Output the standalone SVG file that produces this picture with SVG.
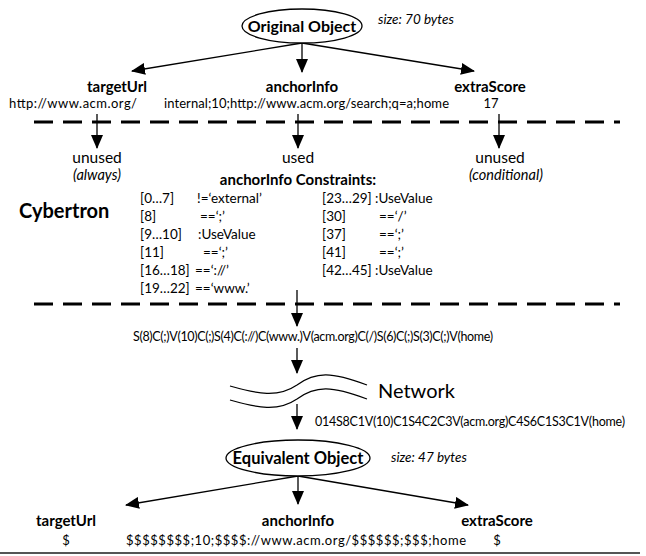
<svg xmlns="http://www.w3.org/2000/svg" width="646" height="556" viewBox="0 0 646 556">
<defs>
<marker id="ah" markerUnits="userSpaceOnUse" markerWidth="14" markerHeight="12" viewBox="0 0 14 12" refX="13" refY="6" orient="auto">
<path d="M0,0 L14,6 L0,12 Z" fill="#000"/>
</marker>
<style>
text{font-family:Lato,"Liberation Sans",sans-serif;fill:#000}
.b{font-weight:bold}
.i{font-style:italic}
.t{font-size:13px}
.lab{font-size:15px;font-weight:bold;text-anchor:middle}
.m{text-anchor:middle}
.c{stroke:#000;stroke-width:1.3;fill:none;marker-end:url(#ah)}
.dash{stroke:#000;stroke-width:3;stroke-dasharray:19,10;fill:none}
.ell{fill:#fff;stroke:#000;stroke-width:1.3}
</style>
</defs>
<rect width="646" height="556" fill="#fff"/>
<g id="connectors">
<path class="c" d="M302,43 L132,71"/>
<path class="c" d="M302,43 L302,72"/>
<path class="c" d="M302,43 L474,71"/>
<path class="c" d="M97,114 L97,148"/>
<path class="c" d="M298,114 L298,148"/>
<path class="c" d="M499,114 L499,148"/>
<path class="c" d="M297,290 L297,326"/>
<path class="c" d="M297,348 L297,373"/>
<path class="c" d="M297,404 L297,429"/>
<path class="c" d="M298,476 L126,505"/>
<path class="c" d="M298,476 L298,504"/>
<path class="c" d="M298,476 L468,505"/>
</g>
<g id="separators">
<path class="dash" d="M34,122 L620,122"/>
<path class="dash" d="M34,304 L620,304"/>
<path d="M0,553 L640,553" stroke="#555" stroke-width="2"/>
</g>
<g id="original-object">
<ellipse class="ell" cx="302" cy="26" rx="60" ry="17"/>
<text class="b m" x="302" y="32" font-size="16">Original Object</text>
<text class="i" x="378" y="24" font-size="13.5">size: 70 bytes</text>
</g>
<g id="orig-targetUrl">
<text class="lab" x="117" y="92">targetUrl</text>
<text class="t" x="9" y="108" textLength="128">http://www.acm.org/</text>
</g>
<g id="orig-anchorInfo">
<text class="lab" x="302" y="92">anchorInfo</text>
<text class="t" x="164" y="108" textLength="285">internal;10;http://www.acm.org/search;q=a;home</text>
</g>
<g id="orig-extraScore">
<text class="lab" x="490" y="92">extraScore</text>
<text class="t m" x="491" y="108">17</text>
</g>
<g id="unused-always">
<text class="m" x="97" y="163" font-size="15.5">unused</text>
<text class="i m" x="97" y="180" font-size="14.5">(always)</text>
</g>
<g id="used">
<text class="m" x="298" y="163" font-size="15.5">used</text>
</g>
<g id="unused-conditional">
<text class="m" x="500" y="163" font-size="15.5">unused</text>
<text class="i m" x="506" y="180" font-size="14.5">(conditional)</text>
</g>
<g id="cybertron">
<text class="b" x="19" y="218" font-size="20">Cybertron</text>
</g>
<g id="constraints" font-size="13.5">
<text class="b m" x="298" y="185" font-size="15">anchorInfo Constraints:</text>
<text x="140" y="203">[0…7]</text><text x="197" y="203">!=‘external’</text>
<text x="140" y="221">[8]</text><text x="200" y="221">==‘;’</text>
<text x="140" y="239">[9…10]</text><text x="198" y="239">:UseValue</text>
<text x="140" y="257">[11]</text><text x="203" y="257">==‘;’</text>
<text x="140" y="275">[16…18]</text><text x="195" y="275">==‘://’</text>
<text x="140" y="293">[19…22]</text><text x="195" y="293">==‘www.’</text>
<text x="322" y="203">[23…29]</text><text x="375" y="203">:UseValue</text>
<text x="322" y="221">[30]</text><text x="379" y="221">==‘/’</text>
<text x="322" y="239">[37]</text><text x="379" y="239">==‘;’</text>
<text x="322" y="257">[41]</text><text x="379" y="257">==‘;’</text>
<text x="322" y="275">[42…45]</text><text x="375" y="275">:UseValue</text>
</g>
<g id="encoded">
<text x="133" y="341" font-size="12.5" textLength="360">S(8)C(;)V(10)C(;)S(4)C(://)C(www.)V(acm.org)C(/)S(6)C(;)S(3)C(;)V(home)</text>
</g>
<g id="network">
<path d="M230,386 C258,394 278,398 297,385 C316,371 332,372 367,385" fill="none" stroke="#000" stroke-width="1.2"/>
<path d="M230,400 C258,408 278,412 297,399 C316,385 332,386 367,399" fill="none" stroke="#000" stroke-width="1.2"/>
<text x="378" y="398" font-size="20">Network</text>
</g>
<g id="compressed">
<text x="315" y="426" font-size="12.5" textLength="310">014S8C1V(10)C1S4C2C3V(acm.org)C4S6C1S3C1V(home)</text>
</g>
<g id="equivalent-object">
<ellipse class="ell" cx="298" cy="458" rx="72" ry="18"/>
<text class="b m" x="298" y="464" font-size="16.5">Equivalent Object</text>
<text class="i" x="391" y="462" font-size="13.5">size: 47 bytes</text>
</g>
<g id="eq-targetUrl">
<text class="lab" x="66" y="526">targetUrl</text>
<text class="t m" x="66" y="545">$</text>
</g>
<g id="eq-anchorInfo">
<text class="lab" x="298" y="526">anchorInfo</text>
<text class="t" x="126" y="545" textLength="340">$$$$$$$$;10;$$$$://www.acm.org/$$$$$$;$$$;home</text>
</g>
<g id="eq-extraScore">
<text class="lab" x="497" y="526">extraScore</text>
<text class="t m" x="497" y="545">$</text>
</g>
</svg>
